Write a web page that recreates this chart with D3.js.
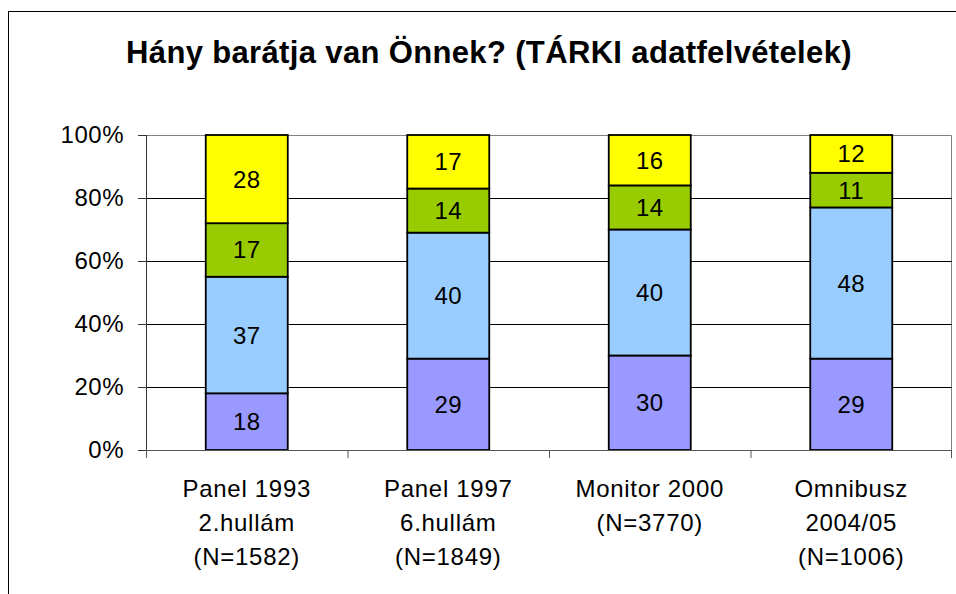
<!DOCTYPE html>
<html>
<head>
<meta charset="utf-8">
<script src="https://cdn.jsdelivr.net/npm/d3@7"></script>
<style>
  body { margin: 0; background: #fff; }
  text { font-family: "Liberation Sans", Arial, sans-serif; }
</style>
</head>
<body>
<div id="chart"></div>
<script>
// data
var categories = [
  ["Panel 1993", "2.hullám", "(N=1582)"],
  ["Panel 1997", "6.hullám", "(N=1849)"],
  ["Monitor 2000", "(N=3770)"],
  ["Omnibusz", "2004/05", "(N=1006)"]
];
var seriesA = [18, 29, 30, 29];   // bottom
var seriesB = [37, 40, 40, 48];
var seriesC = [17, 14, 14, 11];
var seriesD = [28, 17, 16, 12];   // top
var colors = ["#9999FF", "#99CCFF", "#99CC00", "#FFFF00"];
var yTicks = [0, 20, 40, 60, 80, 100];

var svgWidth = 956;
var svgHeight = 594;

var margin = { top: 135, right: 4, bottom: 144, left: 146 };
var width = svgWidth - margin.left - margin.right;
var height = svgHeight - margin.top - margin.bottom;

var svg = d3.select("#chart")
  .append("svg")
  .attr("width", svgWidth)
  .attr("height", svgHeight);

// outer frame (only left + top visible)
svg.append("rect")
  .attr("x", 8.5)
  .attr("y", 11.5)
  .attr("width", 1000)
  .attr("height", 1000)
  .attr("fill", "none")
  .attr("stroke", "#000")
  .attr("stroke-width", 1);

svg.append("text")
  .attr("x", 489)
  .attr("y", 63)
  .attr("text-anchor", "middle")
  .style("font-size", "31px")
  .style("font-weight", "bold")
  .style("letter-spacing", "0.35px")
  .text("Hány barátja van Önnek? (TÁRKI adatfelvételek)");

var chartGroup = svg.append("g")
  .attr("transform", `translate(${margin.left}, ${margin.top})`);

var xScale = d3.scaleBand()
  .domain(d3.range(categories.length))
  .range([0, width]);

var yScale = d3.scaleLinear()
  .domain([0, 100])
  .range([height, 0]);

// plot area border (top + right, gray)
chartGroup.append("path")
  .attr("d", `M0,0.5H${width - 0.5}V${height}`)
  .attr("fill", "none")
  .attr("stroke", "#808080");

// gridlines
chartGroup.selectAll(".grid")
  .data(yTicks.filter(d => d > 0 && d < 100))
  .enter()
  .append("line")
  .attr("x1", 0)
  .attr("x2", width)
  .attr("y1", d => Math.round(yScale(d)) + 0.5)
  .attr("y2", d => Math.round(yScale(d)) + 0.5)
  .attr("stroke", "#000");

// stacked bars
var stackData = categories.map((c, i) => ({
  i: i, a: seriesA[i], b: seriesB[i], c: seriesC[i], d: seriesD[i]
}));
var stack = d3.stack().keys(["a", "b", "c", "d"]);
var layers = stack(stackData);

var barW = 82;
layers.forEach((layer, k) => {
  var g = chartGroup.append("g");
  g.selectAll("rect")
    .data(layer)
    .enter()
    .append("rect")
    .attr("x", d => xScale(d.data.i) + xScale.bandwidth() / 2 - barW / 2)
    .attr("y", d => yScale(d[1]))
    .attr("width", barW)
    .attr("height", d => yScale(d[0]) - yScale(d[1]))
    .attr("fill", colors[k])
    .attr("stroke", "#000")
    .attr("stroke-width", 1.8);
  g.selectAll("text")
    .data(layer)
    .enter()
    .append("text")
    .attr("x", d => xScale(d.data.i) + xScale.bandwidth() / 2)
    .attr("y", d => (yScale(d[0]) + yScale(d[1])) / 2 + 8.5)
    .attr("text-anchor", "middle")
    .style("font-size", "24px")
    .style("letter-spacing", "0.5px")
    .text(d => d[1] - d[0]);
});

// y axis
var leftAxis = d3.axisLeft(yScale)
  .tickValues(yTicks)
  .tickSize(8)
  .tickPadding(14)
  .tickFormat(d => d + "%");
var yAxis = chartGroup.append("g").call(leftAxis);
yAxis.select(".domain").attr("stroke", "#333").attr("d", `M0.5,0V${height}`);
yAxis.selectAll("line").attr("stroke", "#333");
yAxis.selectAll("text")
  .style("font-size", "24px")
  .style("letter-spacing", "0.5px")
  .attr("fill", "#000")
  .attr("font-family", null);

// x axis
var xAxis = chartGroup.append("g")
  .attr("transform", `translate(0, ${height})`);
xAxis.append("line")
  .attr("x1", 0).attr("x2", width)
  .attr("y1", 0.5).attr("y2", 0.5)
  .attr("stroke", "#555");
xAxis.selectAll(".tick")
  .data(d3.range(categories.length + 1))
  .enter()
  .append("line")
  .attr("x1", d => d < categories.length ? xScale(d) + 0.5 : width - 0.5)
  .attr("x2", d => d < categories.length ? xScale(d) + 0.5 : width - 0.5)
  .attr("y1", 0)
  .attr("y2", 8)
  .attr("stroke", "#555");

var labels = xAxis.selectAll(".lab")
  .data(categories)
  .enter()
  .append("text")
  .attr("text-anchor", "middle")
  .attr("transform", (d, i) => `translate(${xScale(i) + xScale.bandwidth() / 2}, 0)`)
  .style("font-size", "24px")
  .style("letter-spacing", "0.7px");
labels.selectAll("tspan")
  .data(d => d)
  .enter()
  .append("tspan")
  .attr("x", 0)
  .attr("y", (d, j) => 47 + j * 34)
  .text(d => d);
</script>
</body>
</html>
